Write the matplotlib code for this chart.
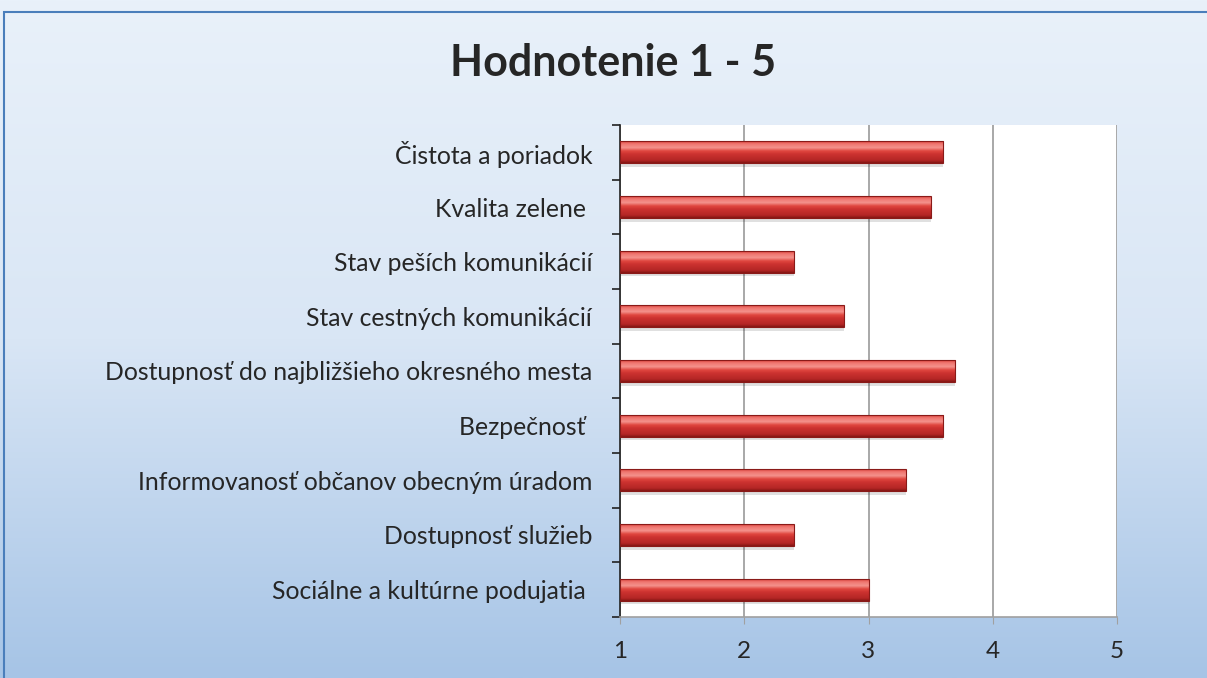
import numpy as np
import matplotlib
matplotlib.use("Agg")
import matplotlib.pyplot as plt
from matplotlib.colors import LinearSegmentedColormap
from matplotlib.patches import Rectangle

plt.rcParams['font.family'] = ['Lato', 'DejaVu Sans']

title = "Hodnotenie 1 - 5"
labels = ["Čistota a poriadok", "Kvalita zelene ", "Stav peších komunikácií",
          "Stav cestných komunikácií", "Dostupnosť do najbližšieho okresného mesta",
          "Bezpečnosť ", "Informovanosť občanov obecným úradom",
          "Dostupnosť služieb", "Sociálne a kultúrne podujatia "]
values = [3.6, 3.5, 2.4, 2.8, 3.7, 3.6, 3.3, 2.4, 3.0]
xticks = [1, 2, 3, 4, 5]

fig = plt.figure(figsize=(12.07, 6.78), dpi=100)

# background gradient
bg = fig.add_axes([0, 0, 1, 1], zorder=-10)
bg_cmap = LinearSegmentedColormap.from_list("bg", ["#e9f1fa", "#d9e6f5", "#a6c4e6"])
grad = np.linspace(0, 1, 256).reshape(-1, 1)
bg.imshow(grad, aspect="auto", cmap=bg_cmap, extent=[0, 1, 0, 1], origin="upper")
bg.add_patch(Rectangle((4 / 1207, -0.1), 1.2, 1 - 12 / 678 + 0.1, fill=False,
                       edgecolor="#4a7ebb", lw=1.5, transform=bg.transAxes))
bg.set_xlim(0, 1); bg.set_ylim(0, 1)
bg.axis("off")

fig.text(0.508, 0.907, title, ha="center", va="center", fontsize=31, fontweight="bold",
         color="#262626")

ax = fig.add_axes([620 / 1207, 61 / 678, 497 / 1207, 492 / 678])
ax.set_facecolor("white")
y = np.arange(len(labels))
h = 0.4

bar_cmap = LinearSegmentedColormap.from_list(
    "bar", [(0, "#d8423c"), (0.12, "#f07670"), (0.3, "#f4928c"), (0.45, "#e0463f"),
            (0.6, "#cc3230"), (0.88, "#b42625"), (1, "#841614")])
bgrad = np.linspace(0, 1, 64).reshape(-1, 1)

# shadows
ax.barh(y + 0.07, np.array(values) - 1, left=1, height=h, color="#000000",
        alpha=0.12, zorder=2, linewidth=0)
bars = ax.barh(y, np.array(values) - 1, left=1, height=h, color="none",
               edgecolor="#8a1a18", linewidth=0.8, zorder=4)
for b in bars:
    x0, y0 = b.get_x(), b.get_y()
    w, hh = b.get_width(), b.get_height()
    im = ax.imshow(bgrad, aspect="auto", cmap=bar_cmap,
                   extent=[x0, x0 + w, y0 + hh, y0], origin="upper", zorder=3)
    im.set_clip_path(b)

ax.set_xlim(1, 5)
ax.set_ylim(len(labels) - 0.5, -0.5)
ax.set_xticks(xticks)
ax.set_xticklabels([str(t) for t in xticks])
ax.set_yticks(y)
ax.set_yticklabels(labels)
ax.set_yticks(np.arange(len(labels) + 1) - 0.5, minor=True)
ax.tick_params(axis="y", which="major", length=0, pad=20, labelsize=17.8, labelcolor="#262626")
ax.tick_params(axis="y", which="minor", length=6, width=1.2, color="#222222", direction="out")
ax.tick_params(axis="x", length=5, color="#a0a0a0", pad=12, labelsize=17.5, labelcolor="#262626")
ax.grid(axis="x", color="#9a9a9a", lw=1.2, zorder=1)
ax.set_axisbelow(True)
for s in ["top", "right"]:
    ax.spines[s].set_visible(False)
ax.spines["left"].set_color("#222222")
ax.spines["left"].set_linewidth(1.2)
ax.spines["bottom"].set_color("#a0a0a0")
ax.spines["bottom"].set_linewidth(1.2)

fig.savefig("out.png", dpi=100)
